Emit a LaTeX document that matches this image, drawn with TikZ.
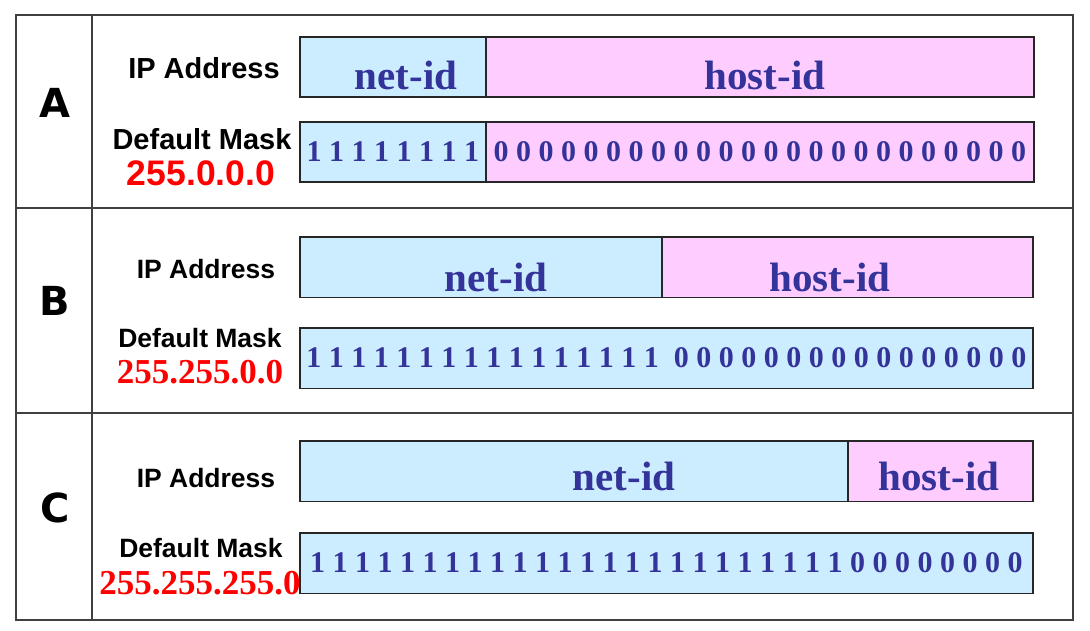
\documentclass[tikz,border=0pt]{standalone}
\usepackage{fontspec}
\setmainfont{Liberation Serif}
\setsansfont{Liberation Sans}
\newfontfamily\classfont{DejaVu Sans}
\usetikzlibrary{positioning}
\definecolor{netblue}{RGB}{204,236,255}
\definecolor{hostpink}{RGB}{255,204,255}
\definecolor{idblue}{RGB}{51,51,153}

\begin{document}
\begin{tikzpicture}[x=1pt,y=-1pt,
  frame/.style={draw=black!75,line width=1.3pt},
  cell/.style={draw=black!85,line width=1.6pt,inner sep=0pt,anchor=north west,minimum height=60.5pt,
    text=idblue,font={\rmfamily\bfseries\fontsize{30}{30}\selectfont}},
  netbox/.style={cell,fill=netblue},
  hostbox/.style={cell,fill=hostpink},
  idtext/.style={anchor=base,inner sep=0pt,text=idblue,font={\rmfamily\bfseries\fontsize{41}{41}\selectfont}},
  lbl/.style={anchor=base,inner sep=0pt,font={\sffamily\bfseries\fontsize{26.5}{26.5}\selectfont}},
  biglbl/.style={lbl,font={\sffamily\bfseries\fontsize{29}{29}\selectfont}},
  masklbl/.style={anchor=base,inner sep=0pt,text=red,font={\rmfamily\bfseries\fontsize{35}{35}\selectfont}},
  classlbl/.style={anchor=base,inner sep=0pt,font={\classfont\bfseries\fontsize{40}{40}\selectfont}}]
\useasboundingbox (0,0) rectangle (1090,631);
\draw[frame] (16,15) rectangle (1073,620);
\draw[frame] (92,15) -- (92,620);
\draw[frame] (16,208) -- (1073,208);
\draw[frame] (16,413) -- (1073,413);

\node[classlbl] (A) at (55,118) {A};
\node[classlbl] (B) at (55,315) {B};
\node[classlbl] (C) at (55,522) {C};

\node[biglbl] (Aip) at (204,79) {IP Address};
\node[biglbl] (Amask) at (202,150) {Default Mask};
\node[masklbl,font={\sffamily\bfseries\fontsize{35.5}{35.5}\selectfont}] (Aval) at (201,186) {255.0.0.0};
\node[lbl] (Bip) at (206,278) {IP Address};
\node[lbl] (Bmask) at (200,347) {Default Mask};
\node[masklbl] (Bval) at (200,383) {255.255.0.0};
\node[lbl] (Cip) at (206,487) {IP Address};
\node[lbl] (Cmask) at (201,557) {Default Mask};
\node[masklbl] (Cval) at (200,594) {255.255.255.0};

\node[netbox,minimum width=186pt] (Anet) at (299,36) {};
\node[hostbox,minimum width=548pt] (Ahost) at (485,36) {};
\node[idtext] (Anetid) at (406,90) {net-id};
\node[idtext] (Ahostid) at (765,90) {host-id};
\node[netbox,minimum width=186pt] (Aones) at (299,121) {1 1 1 1 1 1 1 1};
\node[hostbox,minimum width=548pt] (Azeros) at (485,121) {0 0 0 0 0 0 0 0 0 0 0 0 0 0 0 0 0 0 0 0 0 0 0 0};

\node[netbox,minimum width=362pt] (Bnet) at (299,236) {};
\node[hostbox,minimum width=371pt] (Bhost) at (661,236) {};
\node[idtext] (Bnetid) at (496,291) {net-id};
\node[idtext] (Bhostid) at (830,291) {host-id};
\node[netbox,minimum width=733pt] (Bbits) at (299,327) {1 1 1 1 1 1 1 1 1 1 1 1 1 1 1 1 \ 0 0 0 0 0 0 0 0 0 0 0 0 0 0 0 0};

\node[netbox,minimum width=548pt] (Cnet) at (299,440) {};
\node[hostbox,minimum width=185pt] (Chost) at (847,440) {};
\node[idtext] (Cnetid) at (624,490) {net-id};
\node[idtext] (Chostid) at (939,490) {host-id};
\node[netbox,minimum width=733pt] (Cbits) at (299,532) {1 1 1 1 1 1 1 1 1 1 1 1 1 1 1 1 1 1 1 1 1 1 1 1 0 0 0 0 0 0 0 0};
\end{tikzpicture}
\end{document}
